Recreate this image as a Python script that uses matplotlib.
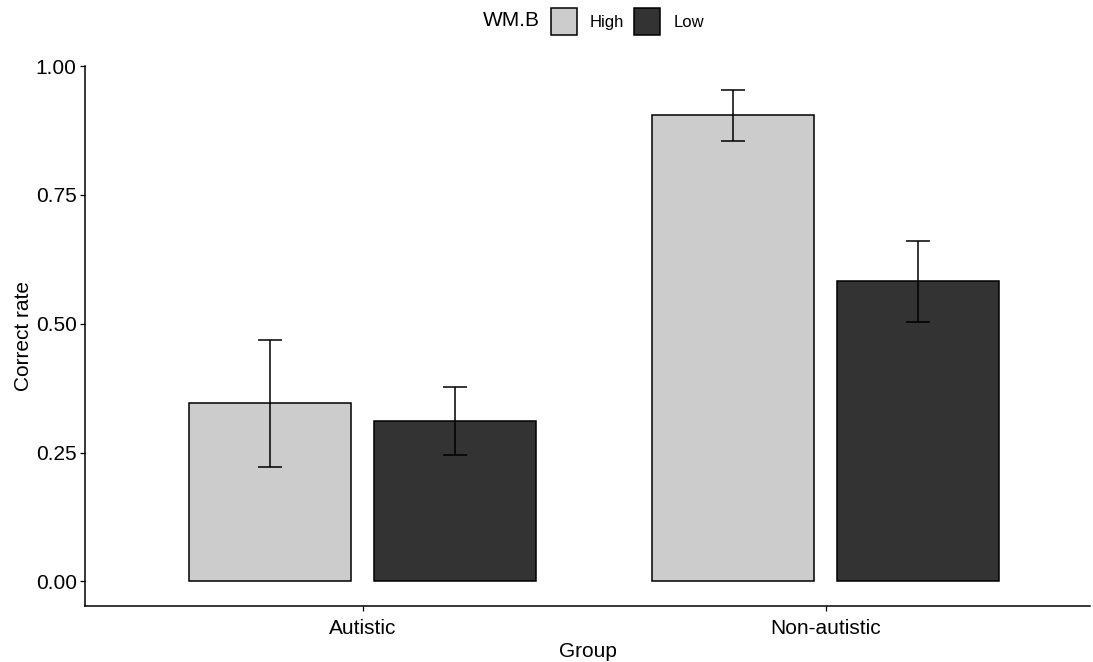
import matplotlib
matplotlib.use('Agg')
import matplotlib.pyplot as plt
import numpy as np
from matplotlib.patches import Patch

groups = ['Autistic', 'Non-autistic']
levels = ['High', 'Low']
means_high = [0.346, 0.904]
means_low = [0.311, 0.582]
lower_high = [0.222, 0.855]
upper_high = [0.469, 0.953]
lower_low = [0.246, 0.504]
upper_low = [0.377, 0.661]
yticks = [0.0, 0.25, 0.5, 0.75, 1.0]
ytick_labels = ['0.00', '0.25', '0.50', '0.75', '1.00']
colors = ['#CCCCCC', '#333333']

plt.rcParams['font.family'] = ['Liberation Sans', 'DejaVu Sans']
W, H = 1093, 662
fig = plt.figure(figsize=(W / 100, H / 100), dpi=100)
ax = fig.add_axes([85 / W, 1 - 606 / H, (1090 - 85) / W, (606 - 66) / H])

x = np.arange(1, len(groups) + 1)
dodge = 0.2
width = 0.35
series = [(means_high, lower_high, upper_high), (means_low, lower_low, upper_low)]
handles = []
for i, (m, lo, hi) in enumerate(series):
    m = np.array(m); lo = np.array(lo); hi = np.array(hi)
    pos = x + (2 * i - 1) * dodge
    ax.bar(pos, m, width, color=colors[i], edgecolor='black', linewidth=1.1, zorder=2)
    ax.errorbar(pos, m, yerr=[m - lo, hi - m], fmt='none', ecolor='black',
                elinewidth=1.1, capsize=8.3, capthick=1.1, zorder=3)
    handles.append(Patch(facecolor=colors[i], edgecolor='black', linewidth=1.1, label=levels[i]))

ax.set_xlim(0.4, 0.4 + 1005 / 463)
ax.set_ylim(-0.0476, 1.0)
ax.set_xticks(x)
ax.set_xticklabels(groups)
ax.set_yticks(yticks)
ax.set_yticklabels(ytick_labels)
for s in ['top', 'right']:
    ax.spines[s].set_visible(False)
for s in ['left', 'bottom']:
    ax.spines[s].set_linewidth(1.1)
ax.tick_params(axis='both', length=3.5, width=0.9, labelsize=15, colors='black')
ax.tick_params(axis='y', pad=2.5)
ax.tick_params(axis='x', pad=5.5)
ax.set_xlabel('Group', fontsize=15, labelpad=3)
ax.set_ylabel('Correct rate', fontsize=15, labelpad=2)

fig.text(511 / W, 1 - 21 / H, 'WM.B', fontsize=15, ha='center', va='center')
fig.legend(handles=handles, loc='center left', bbox_to_anchor=(551 / W, 1 - 21.5 / H),
           ncol=2, frameon=False, fontsize=12, handlelength=1.56, handleheight=2.08,
           handletextpad=0.78, columnspacing=0.6, borderpad=0, borderaxespad=0)

fig.savefig('out.png', dpi=100)
